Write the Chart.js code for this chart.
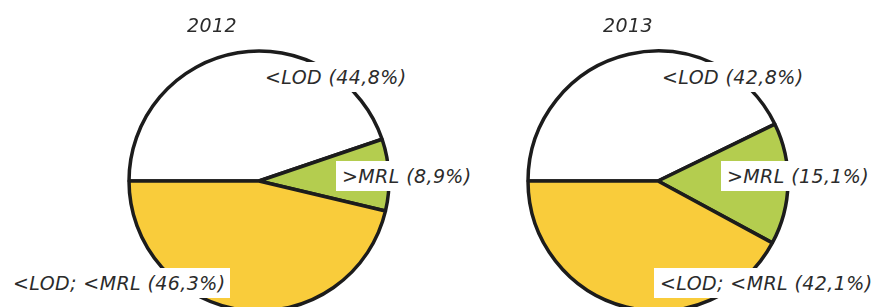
<!DOCTYPE html>
<html>
<head>
<meta charset="utf-8">
<script src="https://cdn.jsdelivr.net/npm/chart.js@4/dist/chart.umd.min.js"></script>
<style>
    html, body { margin: 0; padding: 0; background: #fff; }
    body { width: 887px; height: 307px; overflow: hidden; position: relative; }
    .pie { position: absolute; top: 0; width: 400px; height: 362px; }
    .txt {
        position: absolute;
        font-family: "DejaVu Sans", sans-serif;
        font-style: italic;
        font-size: 19px;
        letter-spacing: 0.4px;
        color: #2b2b2b;
        white-space: nowrap;
        line-height: 30px;
        height: 30px;
    }
    .lbl { background: #fff; padding: 0 5px 0 6px; }
</style>
</head>
<body>
<canvas id="pie2012" class="pie" width="400" height="362" style="left:59px"></canvas>
<canvas id="pie2013" class="pie" width="400" height="362" style="left:458px"></canvas>

<script>
const years = ['2012', '2013'];
const categories = ['<LOD', '>MRL', '<LOD; <MRL'];
const values2012 = [44.8, 8.9, 46.3];
const values2013 = [42.8, 15.1, 42.1];
const sliceColors = ['#ffffff', '#b4cd4f', '#f9cc3b'];

// where the title and the three labels sit for each pie (left, top)
const titlePos = [[187, 10], [603, 10]];
const labelPos = [
    [[259, 62], [336, 161], [7, 268]],
    [[656, 62], [721, 161], [654, 268]]
];

function fmt(v) {
    return v.toFixed(1).replace('.', ',') + '%';
}

function addText(text, x, y, cls) {
    const div = document.createElement('div');
    div.className = cls;
    div.textContent = text;
    div.style.left = x + 'px';
    div.style.top = y + 'px';
    document.body.appendChild(div);
}

function drawPie(id, values) {
    new Chart(document.getElementById(id), {
        type: 'pie',
        data: {
            labels: categories,
            datasets: [{
                data: values,
                backgroundColor: sliceColors,
                borderColor: '#1c1c1c',
                borderWidth: 3.5
            }]
        },
        options: {
            responsive: false,
            animation: false,
            rotation: -90,
            radius: 130,
            layout: { padding: 0 },
            plugins: {
                legend: { display: false },
                tooltip: { enabled: false }
            }
        }
    });
}

[values2012, values2013].forEach((values, i) => {
    drawPie('pie' + years[i], values);
    addText(years[i], titlePos[i][0], titlePos[i][1], 'txt');
    categories.forEach((cat, j) => {
        const [x, y] = labelPos[i][j];
        addText(`${cat} (${fmt(values[j])})`, x, y, 'txt lbl');
    });
});
</script>
</body>
</html>
